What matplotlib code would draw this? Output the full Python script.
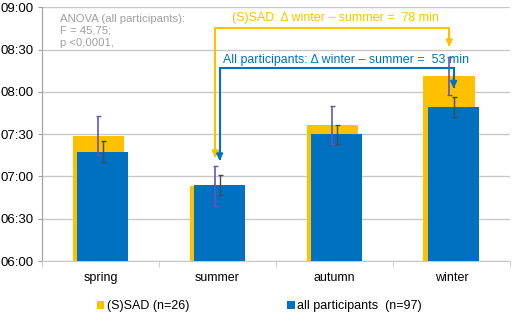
import matplotlib.pyplot as plt
import numpy as np
from matplotlib.ticker import FuncFormatter

plt.rcParams['font.family'] = ['Liberation Sans', 'DejaVu Sans']

# data: minutes after midnight
seasons = ['spring', 'summer', 'autumn', 'winter']
sad_mean = [449.0, 413.0, 456.5, 491.5]
sad_err = [13.7, 14.3, 13.2, 13.5]
all_mean = [437.5, 414.0, 450.0, 469.5]
all_err = [7.3, 7.2, 6.8, 7.1]
yticks = [360, 390, 420, 450, 480, 510, 540]

YELLOW = '#FFC000'
BLUE = '#0070C0'

fig = plt.figure(figsize=(5.12, 3.13), dpi=100)
ax = fig.add_axes([0.082, 0.166, 0.914, 0.811])

x = np.arange(len(seasons))
w = 0.44
off = 0.019

ax.bar(x - off, sad_mean, w, color=YELLOW, zorder=2,
       label='(S)SAD (n=26)')
ax.bar(x + off, all_mean, w, color=BLUE, zorder=3,
       label='all participants  (n=97)')
ax.errorbar(x - off, sad_mean, yerr=sad_err, fmt='none', ecolor='#6655BB',
            elinewidth=1.2, capsize=1.8, capthick=1, zorder=5)
ax.errorbar(x + off, all_mean, yerr=all_err, fmt='none', ecolor='#3F4F4F',
            elinewidth=1.0, capsize=1.8, capthick=1, zorder=5)

ax.set_ylim(360, 540)
ax.set_xlim(-0.5, 3.5)
ax.set_yticks(yticks)
ax.yaxis.set_major_formatter(FuncFormatter(lambda v, p: '%02d:%02d' % (v // 60, v % 60)))
ax.grid(axis='y', color='#C8C8C8', linewidth=1, zorder=0)
ax.set_axisbelow(True)
for s in ['top', 'right']:
    ax.spines[s].set_visible(False)
ax.spines['left'].set_color('#A0A0A0')
ax.spines['bottom'].set_color('#C8C8C8')
ax.tick_params(axis='y', length=3, color='#A0A0A0', labelsize=9.5, pad=3)
ax.set_xticks(x)
ax.set_xticklabels(seasons)
ax.set_xticks(np.arange(-0.5, 4, 1), minor=True)
ax.tick_params(axis='x', which='major', length=0, labelsize=9, pad=8)
ax.tick_params(axis='x', which='minor', length=4, color='#C8C8C8')

# delta arrows (winter vs summer)
def connector(xa, ya, xb, yb, level, color):
    ax.plot([xa, xa, xb, xb], [ya, level, level, yb], color=color, lw=1.5,
            zorder=6, solid_joinstyle='miter')
    for xx, yy in [(xa, ya), (xb, yb)]:
        ax.annotate('', xy=(xx, yy - 1), xytext=(xx, yy + 6),
                    arrowprops=dict(arrowstyle='-|>', color=color, lw=1.5,
                                    mutation_scale=9, shrinkA=0, shrinkB=0),
                    zorder=7)

connector(1 - off, sad_mean[1] + sad_err[1] + 7, 3 - off,
          sad_mean[3] + sad_err[3] + 8, 525.5, YELLOW)
connector(1 + off, all_mean[1] + all_err[1] + 11, 3 + off,
          all_mean[3] + all_err[3] + 7, 497, BLUE)

ax.text(1.12, 532.5, '(S)SAD: \u0394 winter \u2013 summer =  78 min',
        color=YELLOW, fontsize=8.9, va='center')
ax.text(1.05, 502.5, 'All participants: \u0394 winter \u2013 summer =  53 min',
        color=BLUE, fontsize=8.9, va='center')

ax.text(-0.35, 535.5, 'ANOVA (all participants):\nF = 45,75;\np <0,0001,',
        color='#A0A0A0', fontsize=8.2, va='top', linespacing=1.25)

ax.legend(loc='upper center', bbox_to_anchor=(0.464, -0.11), ncol=2,
          frameon=False, fontsize=9, handlelength=0.6, handleheight=0.6,
          handletextpad=0.2, columnspacing=7.85)

fig.savefig('out.png', dpi=100)
